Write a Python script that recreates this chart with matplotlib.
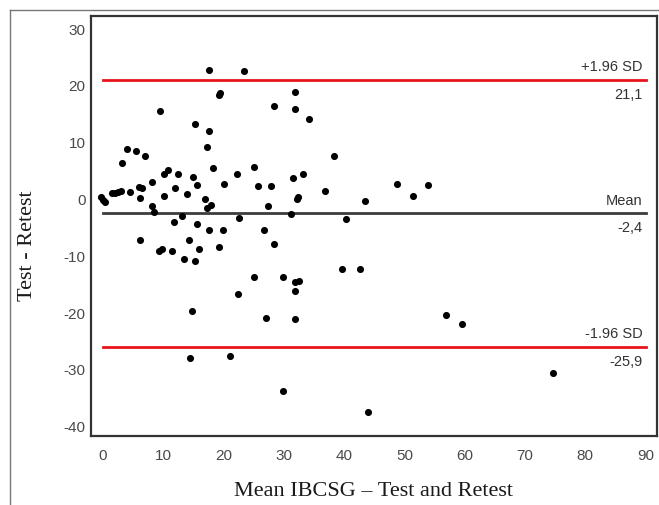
import matplotlib.pyplot as plt
from matplotlib.lines import Line2D

plt.rcParams['axes.unicode_minus'] = False

# mean of test and retest (x) and difference test - retest (y)
mean_vals = [17.5, 23.3, 19.4, 19.2, 28.3, 9.4, 15.2, 17.5, 17.3, 4.0,
             5.5, 7.0, 3.1, 18.3, 25.0, 10.8, 10.1, 12.5, 22.2, 14.9,
             8.1, 15.6, 20.0, 25.7, 27.8, 5.9, 6.4, 11.9, 10.1, 14.0,
             4.4, 1.5, 2.0, 2.5, 3.0, -0.3, 0.0, 0.3, 6.1, 16.9,
             17.9, 17.2, 8.1, 8.4, 27.3, 11.8, 13.1, 15.6, 22.6, 6.1,
             17.5, 19.9, 26.7, 14.2, 28.3, 9.3, 9.8, 11.5, 15.9, 19.3,
             13.5, 15.2, 25.0, 29.9, 22.4, 14.8, 27.0, 14.5, 21.0, 29.9,
             31.1, 40.3, 43.4, 32.3, 32.1, 39.6, 42.7, 31.8, 32.5, 31.8,
             31.8, 56.9, 59.5, 43.9, 31.8, 31.8, 34.2, 38.3, 31.5, 33.2,
             36.9, 48.7, 51.4, 53.9, 74.7]
diff_vals = [22.8, 22.7, 18.7, 18.4, 16.4, 15.5, 13.2, 12.0, 9.2, 8.8,
             8.5, 7.7, 6.4, 5.6, 5.7, 5.2, 4.5, 4.5, 4.5, 4.0,
             3.0, 2.5, 2.8, 2.3, 2.3, 2.2, 2.0, 2.1, 0.6, 1.0,
             1.3, 1.1, 1.2, 1.3, 1.4, 0.4, -0.1, -0.5, 0.2, 0.0,
             -0.9, -1.5, -1.2, -2.2, -1.2, -4.0, -3.0, -4.3, -3.3, -7.2,
             -5.4, -5.4, -5.4, -7.2, -7.9, -9.0, -8.7, -9.0, -8.7, -8.4,
             -10.4, -10.8, -13.7, -13.7, -16.6, -19.7, -20.8, -28.0, -27.5, -33.7,
             -2.6, -3.4, -0.2, 0.4, 0.1, -12.2, -12.2, -14.5, -14.4, -16.1,
             -21.1, -20.4, -21.9, -37.5, 18.9, 15.9, 14.2, 7.7, 3.8, 4.5,
             1.5, 2.8, 0.6, 2.5, -30.5]

mean_diff = -2.4
upper_loa = 21.1
lower_loa = -25.9
line_names = ['+1.96 SD', 'Mean', '-1.96 SD']
line_values = [upper_loa, mean_diff, lower_loa]
line_labels = ['21,1', '-2,4', '-25,9']
line_colors = ['#e8141c', '#3c3c3c', '#e8141c']

xticks = list(range(0, 100, 10))
yticks = list(range(-40, 40, 10))

fig = plt.figure(figsize=(6.59, 5.05), dpi=100)
ax = fig.add_axes([91 / 659, 69 / 505, 566 / 659, 420 / 505])

ax.scatter(mean_vals, diff_vals, s=26, color='black', zorder=3, linewidths=0)

for name, val, lab, col in zip(line_names, line_values, line_labels, line_colors):
    ax.plot([0, 90], [val, val], color=col, lw=2, zorder=2)
    ax.annotate(name, (89.5, val), xytext=(0, 4), textcoords='offset points',
                ha='right', va='bottom', fontsize=10.5, color='#333333',
                family='Liberation Sans')
    ax.annotate(lab, (89.5, val), xytext=(0, -6), textcoords='offset points',
                ha='right', va='top', fontsize=10.5, color='#333333',
                family='Liberation Sans')

ax.set_xlim(-2.0, 91.9)
ax.set_ylim(-41.65, 32.3)
ax.set_xticks(xticks)
ax.set_yticks(yticks)
ax.tick_params(length=0, labelsize=11, labelcolor='#4a4a4a')
ax.tick_params(axis='x', pad=9)
ax.tick_params(axis='y', pad=4)
for lbl in ax.get_xticklabels() + ax.get_yticklabels():
    lbl.set_family('Liberation Sans')
for sp in ax.spines.values():
    sp.set_color('#333333')
    sp.set_linewidth(1.6)

fig.text(374 / 659, 1 - 492 / 505, 'Mean IBCSG \u2013 Test and Retest',
         ha='center', va='center', fontsize=16, family='Liberation Serif',
         color='#1a1a1a')
fig.text(27 / 659, 1 - 246 / 505, 'Test - Retest', rotation=90,
         ha='center', va='center', fontsize=16, family='Liberation Serif',
         color='#1a1a1a')

# outer frame (left and top edges)
fig.add_artist(Line2D([10 / 659, 10 / 659], [0, 1 - 10 / 505],
                      transform=fig.transFigure, color='#777777', lw=1))
fig.add_artist(Line2D([10 / 659, 1], [1 - 10 / 505, 1 - 10 / 505],
                      transform=fig.transFigure, color='#777777', lw=1))

fig.savefig('out.png', dpi=100)
